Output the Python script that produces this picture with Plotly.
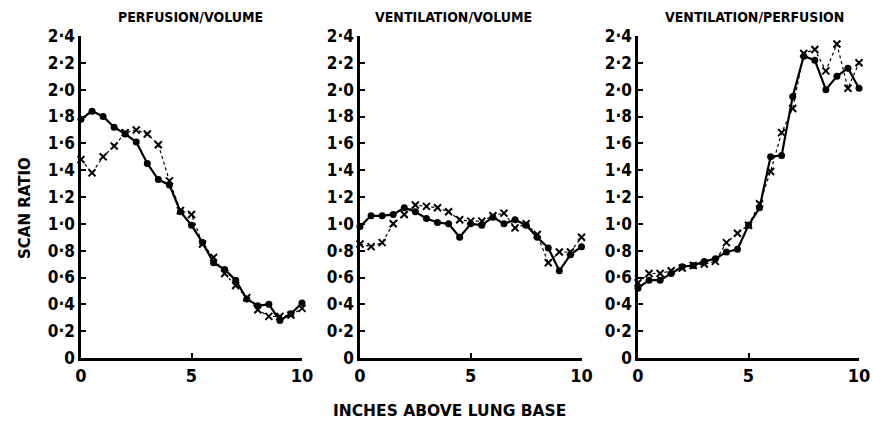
import plotly.graph_objects as go

W, H = 873, 424

x_inches = [i * 0.5 for i in range(21)]

# Panel 1: PERFUSION/VOLUME
perf_vol_solid = [1.78, 1.84, 1.80, 1.72, 1.67, 1.61, 1.45, 1.33, 1.29, 1.09, 0.99,
                  0.86, 0.71, 0.66, 0.58, 0.44, 0.39, 0.40, 0.28, 0.33, 0.41]
perf_vol_cross = [1.48, 1.38, 1.50, 1.58, 1.68, 1.70, 1.67, 1.59, 1.32, 1.10, 1.07,
                  0.85, 0.75, 0.63, 0.54, 0.45, 0.36, 0.31, 0.31, 0.32, 0.37]

# Panel 2: VENTILATION/VOLUME
vent_vol_solid = [0.98, 1.06, 1.06, 1.07, 1.12, 1.09, 1.04, 1.01, 1.00, 0.90, 1.00,
                  0.99, 1.05, 1.00, 1.03, 0.99, 0.90, 0.82, 0.65, 0.77, 0.83]
vent_vol_cross = [0.85, 0.83, 0.86, 1.00, 1.07, 1.14, 1.13, 1.12, 1.09, 1.03, 1.02,
                  1.02, 1.06, 1.08, 0.97, 1.00, 0.92, 0.71, 0.79, 0.79, 0.90]

# Panel 3: VENTILATION/PERFUSION
vent_perf_solid = [0.52, 0.58, 0.58, 0.63, 0.68, 0.69, 0.72, 0.74, 0.79, 0.81, 0.99,
                   1.12, 1.50, 1.51, 1.95, 2.25, 2.22, 2.00, 2.10, 2.16, 2.01]
vent_perf_cross = [0.56, 0.63, 0.63, 0.65, 0.67, 0.69, 0.70, 0.72, 0.86, 0.93, 0.99,
                   1.15, 1.39, 1.68, 1.86, 2.27, 2.30, 2.14, 2.34, 2.01, 2.20]

titles = ["PERFUSION/VOLUME", "VENTILATION/VOLUME", "VENTILATION/PERFUSION"]
y_tickvals = [0, 0.2, 0.4, 0.6, 0.8, 1.0, 1.2, 1.4, 1.6, 1.8, 2.0, 2.2, 2.4]
y_ticktext = ["0", "0·2", "0·4", "0·6", "0·8", "1·0", "1·2", "1·4", "1·6", "1·8", "2·0", "2·2", "2·4"]
x_tickvals = [0, 5, 10]
x_ticktext = ["0", "5", "10"]

panels = [(perf_vol_solid, perf_vol_cross), (vent_vol_solid, vent_vol_cross),
          (vent_perf_solid, vent_perf_cross)]

# pixel extents of each panel's x axis (0 .. 10)
x_px = [(81, 302), (360, 581.5), (638, 859)]
y_bottom_px, y_top_px = 358, 36

FONT = "DejaVu Sans Condensed, DejaVu Sans"
FONT_W = "DejaVu Sans"

fig = go.Figure()
for i, (solid, cross) in enumerate(panels):
    n = "" if i == 0 else str(i + 1)
    fig.add_trace(go.Scatter(
        x=x_inches, y=cross, mode="lines+markers", xaxis="x" + n, yaxis="y" + n,
        line=dict(color="black", width=1.2, dash="dot"),
        marker=dict(symbol="x-thin", size=7, line=dict(color="black", width=2)),
        showlegend=False, cliponaxis=False))
    fig.add_trace(go.Scatter(
        x=x_inches, y=solid, mode="lines+markers", xaxis="x" + n, yaxis="y" + n,
        line=dict(color="black", width=2.2),
        marker=dict(symbol="circle", size=7, color="black"),
        showlegend=False, cliponaxis=False))

layout = dict(
    width=W, height=H,
    margin=dict(l=0, r=0, t=0, b=0, autoexpand=False),
    paper_bgcolor="white", plot_bgcolor="white",
    font=dict(family=FONT, color="black"),
)
ydom = [1 - y_bottom_px / H, 1 - y_top_px / H]
for i in range(3):
    n = "" if i == 0 else str(i + 1)
    x0, x1 = x_px[i]
    layout["xaxis" + n] = dict(
        domain=[x0 / W, x1 / W], range=[0, 10], anchor="y" + n, automargin=False,
        showgrid=False, zeroline=False, showline=True, linecolor="black", linewidth=2.5,
        ticks="inside", ticklen=5, tickwidth=2, tickcolor="black",
        tickvals=x_tickvals, ticktext=x_ticktext,
        tickfont=dict(family=FONT, size=18, color="black", weight="bold"))
    layout["yaxis" + n] = dict(
        domain=ydom, range=[0, 2.4], anchor="x" + n, automargin=False,
        showgrid=False, zeroline=False, showline=True, linecolor="black", linewidth=2.5,
        ticks="inside", ticklen=5, tickwidth=2, tickcolor="black",
        tickvals=y_tickvals, ticktext=y_ticktext,
        tickfont=dict(family=FONT, size=17, color="black", weight="bold"))

annotations = []
title_x = [190, 453, 754]
for t, xc in zip(titles, title_x):
    annotations.append(dict(text=t, x=xc / W, y=1 - 17 / H, xref="paper", yref="paper",
                            showarrow=False, xanchor="center", yanchor="middle",
                            font=dict(family=FONT, size=14, color="black", weight="bold")))
annotations.append(dict(text="SCAN RATIO", x=25 / W, y=1 - 208 / H, xref="paper", yref="paper",
                        showarrow=False, textangle=-90, xanchor="center", yanchor="middle",
                        font=dict(family=FONT_W, size=15, color="black", weight="bold")))
annotations.append(dict(text="INCHES ABOVE LUNG BASE", x=450 / W, y=1 - 411 / H,
                        xref="paper", yref="paper", showarrow=False,
                        xanchor="center", yanchor="middle",
                        font=dict(family=FONT_W, size=15.5, color="black", weight="bold")))
layout["annotations"] = annotations

fig.update_layout(**layout)
fig.write_html("out.html", config={"displayModeBar": False},
               post_script="document.body.style.margin='0';document.body.style.overflow='hidden';")
